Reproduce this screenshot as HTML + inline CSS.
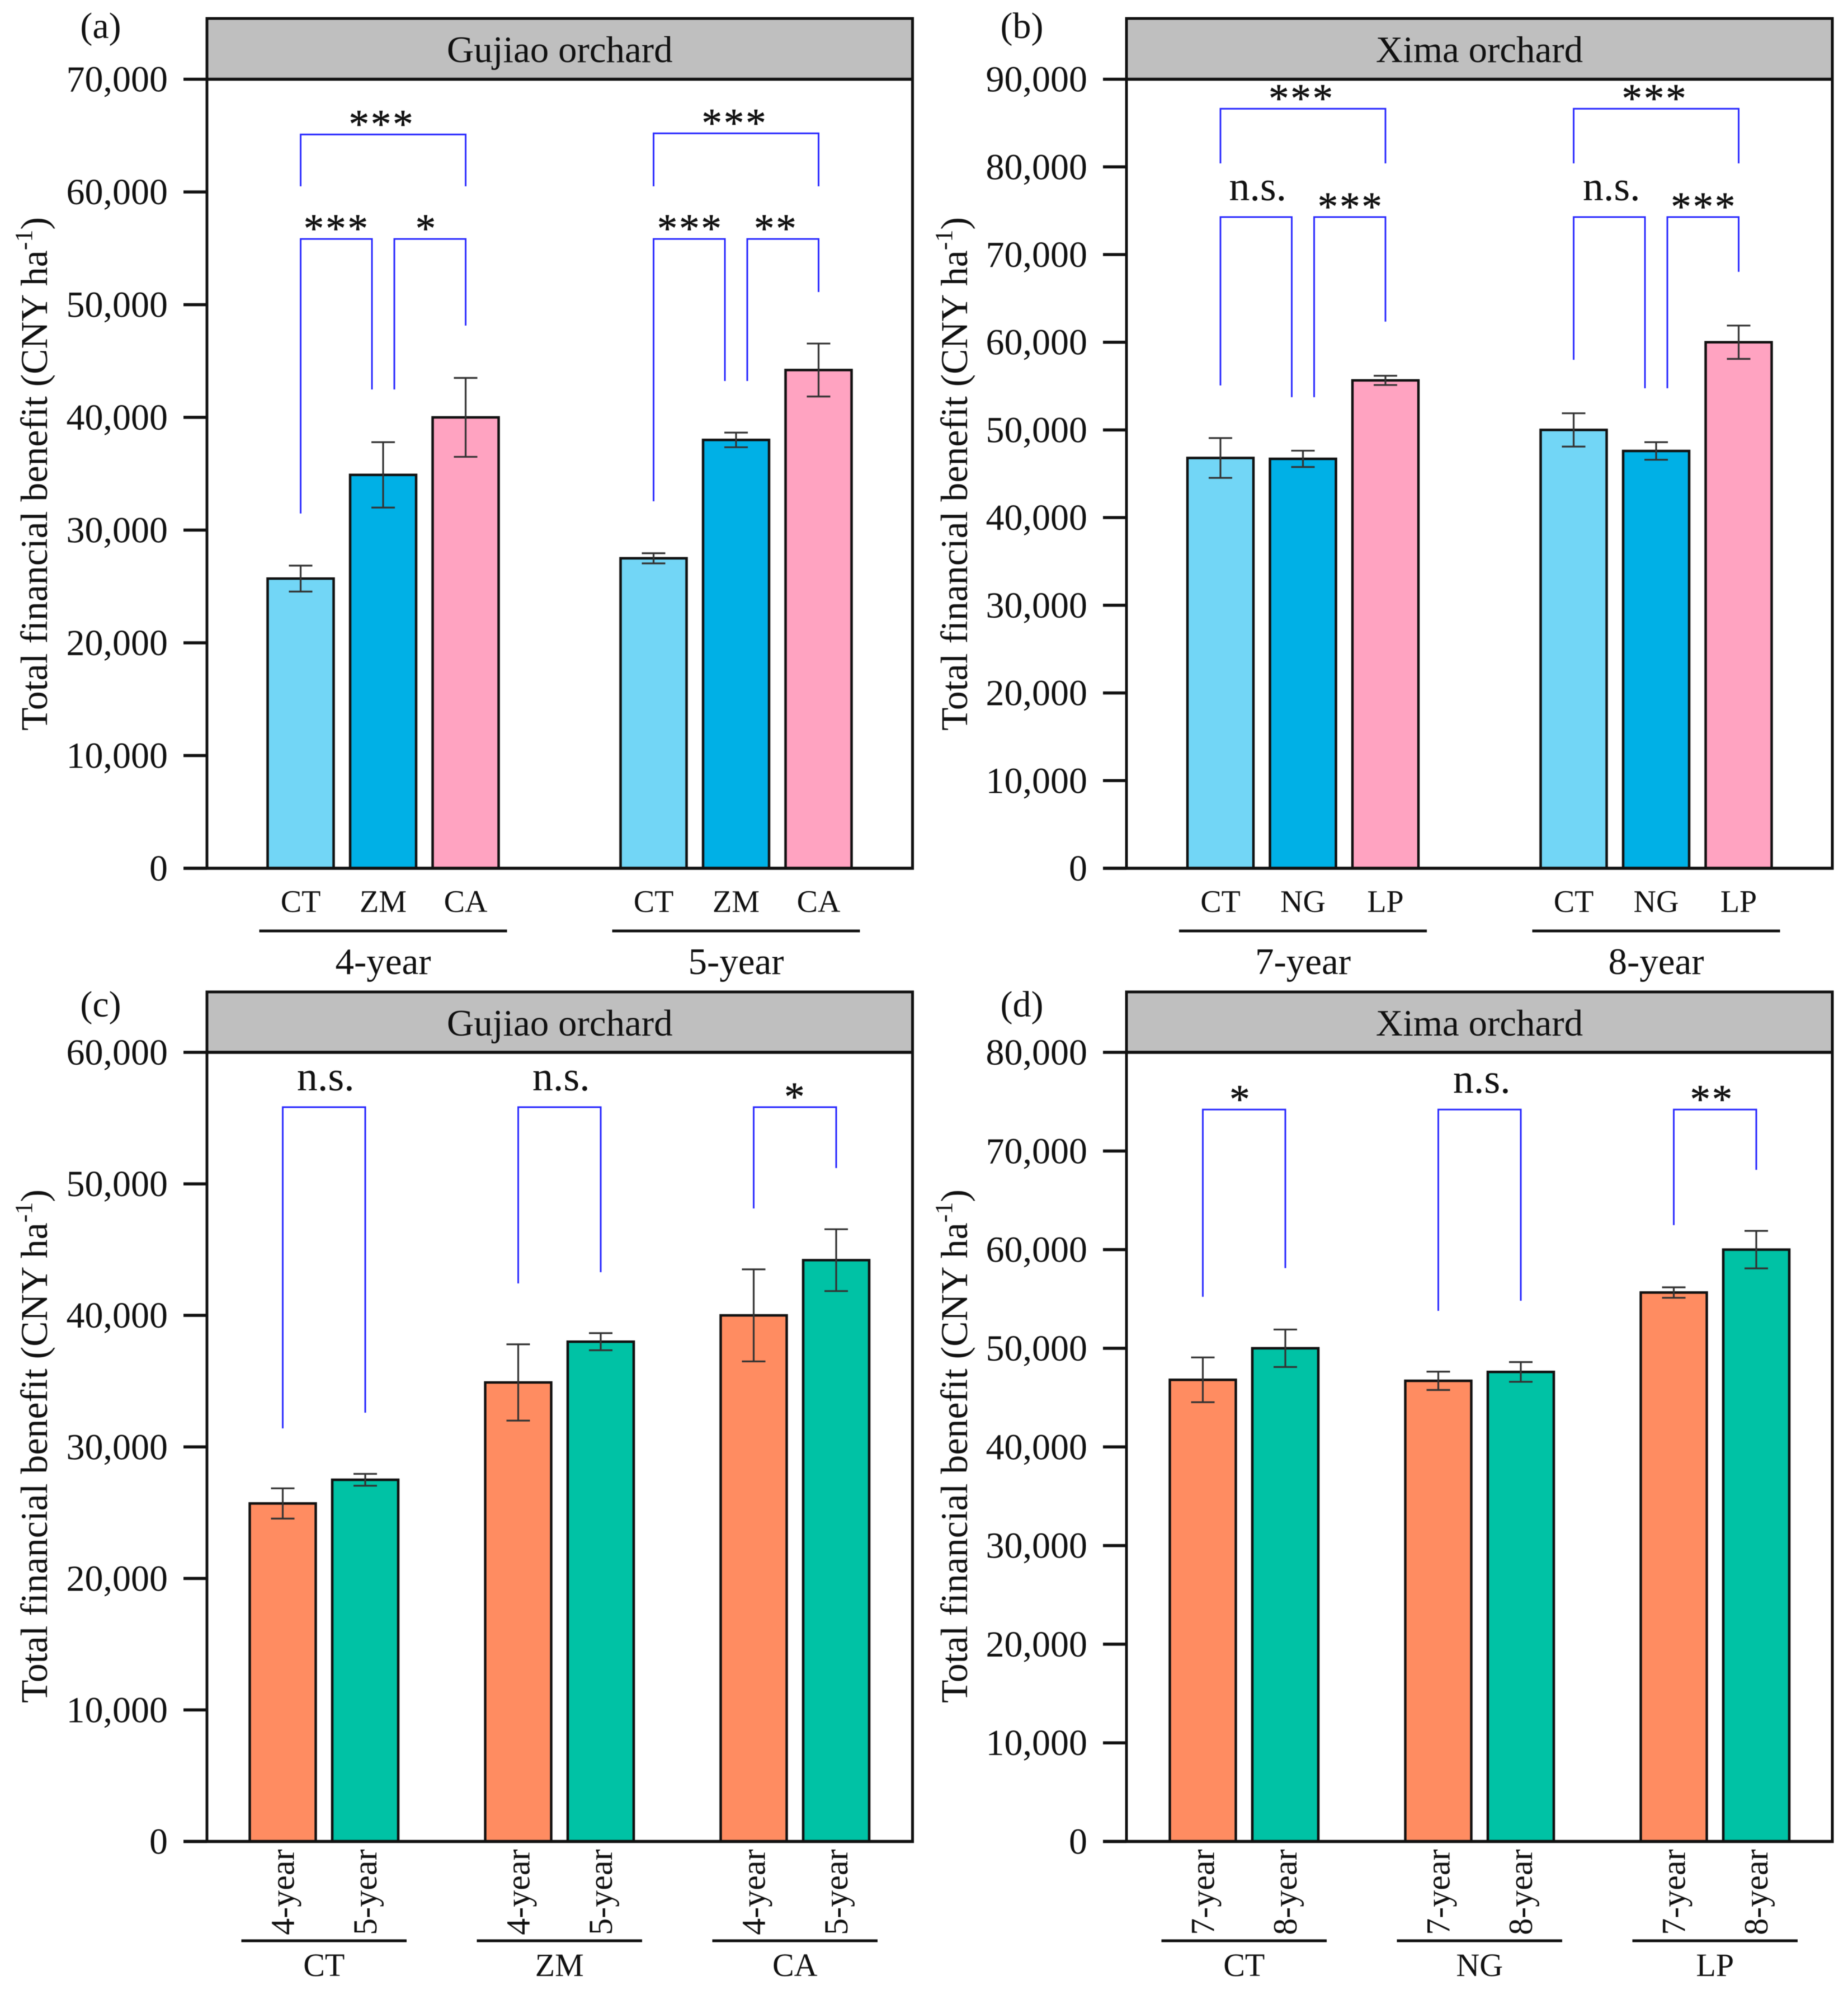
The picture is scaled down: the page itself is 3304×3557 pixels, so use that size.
<!DOCTYPE html>
<html lang="en">
<head>
<meta charset="utf-8">
<title>Total financial benefit by orchard</title>
<style>
html,body{margin:0;padding:0;background:#fff;}
svg{display:block;font-family:"Liberation Serif",serif;fill:#111;filter:blur(0.8px);}
</style>
</head>
<body>
<svg id="figure" xmlns="http://www.w3.org/2000/svg" width="3304" height="3557" viewBox="0 0 3304 3557"></svg>
<script>
// ---- Panel (a) data
const panelACategories = ['CT', 'ZM', 'CA'];
const panelAGroups = ['4-year', '5-year'];
const panelAValues = [25700, 34900, 40000, 27500, 38000, 44200];
const panelAErrors = [1150, 2900, 3500, 450, 650, 2350];
const panelATicks = [0, 10000, 20000, 30000, 40000, 50000, 60000, 70000];
const panelASpans = [[0, 2], [0, 1], [1, 2], [3, 5], [3, 4], [4, 5]];
const panelATops = [65100, 55830, 55830, 65200, 55830, 55830];
const panelALeftEnds = [60500, 31470, 42480, 60500, 32560, 43230];
const panelARightEnds = [60500, 42480, 48140, 60500, 43230, 51120];
const panelAMarks = ['***', '***', '*', '***', '***', '**'];

// ---- Panel (b) data
const panelBCategories = ['CT', 'NG', 'LP'];
const panelBGroups = ['7-year', '8-year'];
const panelBValues = [46800, 46700, 55650, 50000, 47600, 60000];
const panelBErrors = [2270, 930, 530, 1900, 1000, 1900];
const panelBTicks = [0, 10000, 20000, 30000, 40000, 50000, 60000, 70000, 80000, 90000];
const panelBSpans = [[0, 2], [0, 1], [1, 2], [3, 5], [3, 4], [4, 5]];
const panelBTops = [86630, 74280, 74280, 86630, 74280, 74280];
const panelBLeftEnds = [80400, 55070, 53730, 80400, 58000, 54750];
const panelBRightEnds = [80400, 53730, 62350, 80400, 54750, 68030];
const panelBMarks = ['***', 'n.s.', '***', '***', 'n.s.', '***'];

// ---- Panel (c) data
const panelCCategories = ['4-year', '5-year'];
const panelCGroups = ['CT', 'ZM', 'CA'];
const panelCValues = [25700, 27500, 34900, 38000, 40000, 44200];
const panelCErrors = [1150, 450, 2900, 650, 3500, 2350];
const panelCTicks = [0, 10000, 20000, 30000, 40000, 50000, 60000];
const panelCSpans = [[0, 1], [2, 3], [4, 5]];
const panelCTops = [55830, 55830, 55830];
const panelCLeftEnds = [31410, 42430, 48130];
const panelCRightEnds = [32600, 43280, 51200];
const panelCMarks = ['n.s.', 'n.s.', '*'];

// ---- Panel (d) data
const panelDCategories = ['7-year', '8-year'];
const panelDGroups = ['CT', 'NG', 'LP'];
const panelDValues = [46800, 50000, 46700, 47600, 55650, 60000];
const panelDErrors = [2270, 1900, 930, 1000, 530, 1900];
const panelDTicks = [0, 10000, 20000, 30000, 40000, 50000, 60000, 70000, 80000];
const panelDSpans = [[0, 1], [2, 3], [4, 5]];
const panelDTops = [74200, 74200, 74200];
const panelDLeftEnds = [55220, 53800, 62480];
const panelDRightEnds = [58130, 54820, 68090];
const panelDMarks = ['*', 'n.s.', '**'];

const SVGNS = 'http://www.w3.org/2000/svg';
const figure = document.getElementById('figure');

function mk(parent, tag, attrs, text) {
  const el = document.createElementNS(SVGNS, tag);
  for (const k in attrs) el.setAttribute(k, attrs[k]);
  if (text !== undefined) el.textContent = text;
  parent.appendChild(el);
  return el;
}

function drawPanel(p) {
  const root = mk(figure, 'g', {});
  
  

  const tickMax = p.ticks[p.ticks.length - 1];
  const y = v => p.base - (v / tickMax) * (p.base - p.plotTop);
  const barsPerGroup = p.categories.length;
  const x = (i) => p.x0 + Math.floor(i / barsPerGroup) * p.period + (i % barsPerGroup) * p.step;

  // letter
  const letter = mk(root, 'text', {x: p.letterX, y: p.letterY, 'font-size': 66, 'text-anchor': 'middle'}, '(' + p.letter + ')');
  
  

  // header band
  const header = mk(root, 'rect', {x: p.left, y: p.top, width: p.right - p.left, height: p.plotTop - p.top, fill: '#bfbfbf', stroke: 'none'});
  
  

  const title = mk(root, 'text', {x: (p.left + p.right) / 2, y: p.top + 78, 'font-size': 67, 'text-anchor': 'middle'}, p.title);
  
  

  // bars
  p.values.forEach((v, i) => {
    const bar = mk(root, 'rect', {
      x: x(i) - p.barW / 2, y: y(v), width: p.barW, height: p.base - y(v),
      fill: p.colors[i % barsPerGroup], stroke: '#111', 'stroke-width': 4.5
    });
    
    
  });

  // error bars
  p.values.forEach((v, i) => {
    const e = p.errors[i];
    const stem = mk(root, 'line', {x1: x(i), x2: x(i), y1: y(v + e), y2: y(v - e), stroke: '#333', 'stroke-width': 3.2});
    
    
    const capTop = mk(root, 'line', {x1: x(i) - 21, x2: x(i) + 21, y1: y(v + e), y2: y(v + e), stroke: '#333', 'stroke-width': 3.2});
    
    
    const capBottom = mk(root, 'line', {x1: x(i) - 21, x2: x(i) + 21, y1: y(v - e), y2: y(v - e), stroke: '#333', 'stroke-width': 3.2});
    
    
  });

  // frame
  const frame = mk(root, 'path', {
    d: 'M' + p.left + ' ' + p.base + 'V' + p.top + 'H' + p.right + 'V' + p.base,
    fill: 'none', stroke: '#111', 'stroke-width': 5
  });
  
  

  const baseline = mk(root, 'line', {x1: p.left - 42, x2: p.right + 2.5, y1: p.base, y2: p.base, stroke: '#111', 'stroke-width': 5.5});
  
  

  const headerLine = mk(root, 'line', {x1: p.left, x2: p.right, y1: p.plotTop, y2: p.plotTop, stroke: '#111', 'stroke-width': 5.5});
  
  

  // y ticks
  p.ticks.forEach(t => {
    const tick = mk(root, 'line', {x1: p.left - 42, x2: p.left, y1: y(t), y2: y(t), stroke: '#111', 'stroke-width': 5.5});
    
    
    const lab = mk(root, 'text', {x: p.left - 70, y: y(t) + 22, 'font-size': 66, 'text-anchor': 'end'}, t.toLocaleString('en-US'));
    
    
  });

  // y axis title
  const axisTitle = mk(root, 'text', {
    transform: 'translate(' + p.yTitleX + ' ' + p.yTitleY + ') rotate(-90)',
    'font-size': 67.8, 'text-anchor': 'middle'
  });
  
  
  mk(axisTitle, 'tspan', {}, 'Total financial benefit (CNY ha');
  mk(axisTitle, 'tspan', {dy: -27, 'font-size': 44}, '-1');
  mk(axisTitle, 'tspan', {dy: 27}, ')');

  // category labels
  p.values.forEach((v, i) => {
    const name = p.categories[i % barsPerGroup];
    let lab;
    if (p.rotated) {
      lab = mk(root, 'text', {
        transform: 'translate(' + (x(i) + 20) + ' ' + (p.base + 14) + ') rotate(-90)',
        'font-size': 60, 'text-anchor': 'end'
      }, name);
    } else {
      lab = mk(root, 'text', {x: x(i), y: p.base + 78, 'font-size': 56, 'text-anchor': 'middle'}, name);
    }
    
    
  });

  // group rules and labels
  p.groups.forEach((g, gi) => {
    const first = x(gi * barsPerGroup);
    const last = x(gi * barsPerGroup + barsPerGroup - 1);
    const mid = (first + last) / 2;
    const half = (last - first) / 2 + p.ruleExtra;
    const rule = mk(root, 'line', {x1: mid - half, x2: mid + half, y1: p.ruleY, y2: p.ruleY, stroke: '#111', 'stroke-width': 5});
    
    
    const lab = mk(root, 'text', {x: mid, y: p.groupY, 'font-size': p.groupSize, 'text-anchor': 'middle'}, g);
    
    
  });

  // significance brackets
  p.spans.forEach((s, k) => {
    const a = s[0], b = s[1];
    let xl = x(a), xr = x(b);
    if (barsPerGroup === 3 && b - a === 1) {
      if (b % 3 === 1) xr -= 20;
      if (a % 3 === 1) xl += 20;
    }
    const top = y(p.tops[k]);
    const bracket = mk(root, 'path', {
      d: 'M' + xl + ' ' + y(p.leftEnds[k]) + 'V' + top + 'H' + xr + 'V' + y(p.rightEnds[k]),
      fill: 'none', stroke: '#2a2aff', 'stroke-width': 3
    });
    
    

    const mark = p.marks[k];
    const cx = (xl + xr) / 2 + p.nudges[k];
    let lab;
    if (mark === 'n.s.') {
      lab = mk(root, 'text', {x: cx, y: top - 30, 'font-size': 74, 'text-anchor': 'middle'}, mark);
    } else {
      lab = mk(root, 'text', {x: cx + 1.5, y: top + 5.5, 'font-size': 73, 'letter-spacing': 2.8, stroke: '#111', 'stroke-width': 0.6, 'text-anchor': 'middle'}, mark);
    }
    
    
  });
}

const barLight = '#72d6f6', barMid = '#00b0e6', barPink = '#ffa3c1';
const threeBarColors = [barLight, barMid, barPink];
const twoBarColors = ['#ff8c61', '#00c2a5'];

drawPanel({
  letter: 'a', title: 'Gujiao orchard', left: 370, right: 1631.5, top: 33, plotTop: 141.6, base: 1552,
  x0: 537.5, step: 147.5, period: 631, barW: 118, colors: threeBarColors,
  categories: panelACategories, groups: panelAGroups, values: panelAValues, errors: panelAErrors, ticks: panelATicks,
  spans: panelASpans, tops: panelATops, leftEnds: panelALeftEnds, rightEnds: panelARightEnds, marks: panelAMarks,
  nudges: [-4, -1, -8, -4, 0, -14],
  letterX: 180, letterY: 68, yTitleX: 84, yTitleY: 847,
  rotated: false, ruleY: 1664, ruleExtra: 74, groupY: 1741, groupSize: 67
});
drawPanel({
  letter: 'b', title: 'Xima orchard', left: 2014, right: 3276, top: 33, plotTop: 141.6, base: 1552,
  x0: 2182, step: 147.5, period: 631.5, barW: 118, colors: threeBarColors,
  categories: panelBCategories, groups: panelBGroups, values: panelBValues, errors: panelBErrors, ticks: panelBTicks,
  spans: panelBSpans, tops: panelBTops, leftEnds: panelBLeftEnds, rightEnds: panelBRightEnds, marks: panelBMarks,
  nudges: [-4, 3, 0, -4, 4, 0],
  letterX: 1827, letterY: 68, yTitleX: 1729, yTitleY: 847,
  rotated: false, ruleY: 1664, ruleExtra: 74, groupY: 1741, groupSize: 67
});
drawPanel({
  letter: 'c', title: 'Gujiao orchard', left: 370, right: 1631.5, top: 1773, plotTop: 1881, base: 3291.5,
  x0: 505.5, step: 147.5, period: 421, barW: 118, colors: twoBarColors,
  categories: panelCCategories, groups: panelCGroups, values: panelCValues, errors: panelCErrors, ticks: panelCTicks,
  spans: panelCSpans, tops: panelCTops, leftEnds: panelCLeftEnds, rightEnds: panelCRightEnds, marks: panelCMarks,
  nudges: [3, 3, -1],
  letterX: 180, letterY: 1817, yTitleX: 84, yTitleY: 2585,
  rotated: true, ruleY: 3469, ruleExtra: 74, groupY: 3532, groupSize: 58
});
drawPanel({
  letter: 'd', title: 'Xima orchard', left: 2014, right: 3276, top: 1773, plotTop: 1881, base: 3291.5,
  x0: 2150.5, step: 147.5, period: 421, barW: 118, colors: twoBarColors,
  categories: panelDCategories, groups: panelDGroups, values: panelDValues, errors: panelDErrors, ticks: panelDTicks,
  spans: panelDSpans, tops: panelDTops, leftEnds: panelDLeftEnds, rightEnds: panelDRightEnds, marks: panelDMarks,
  nudges: [-8, 4, -7],
  letterX: 1827, letterY: 1817, yTitleX: 1729, yTitleY: 2585,
  rotated: true, ruleY: 3469, ruleExtra: 74, groupY: 3532, groupSize: 58
});
</script>
</body>
</html>
